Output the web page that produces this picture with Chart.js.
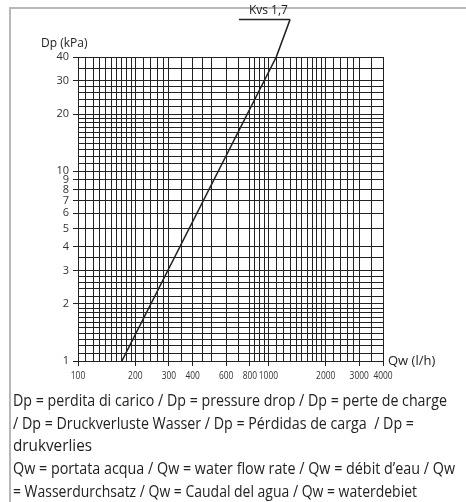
<!DOCTYPE html>
<html>
<head>
<meta charset="utf-8">
<script src="https://cdn.jsdelivr.net/npm/chart.js@4"></script>
<style>
  body { margin: 0; width: 466px; height: 502px; overflow: hidden; background: #fff; position: relative; }
  #frame { position: absolute; left: 9px; top: 7px; width: 470px; height: 510px; border-left: 2px solid #b8b8b8; border-top: 2px solid #b8b8b8; }
  #wrap { position: absolute; left: 0; top: 0; width: 466px; height: 390px; }
  #notes { position: absolute; left: 13px; top: 389px; font-family: 'Open Sans', sans-serif; font-size: 15.5px; line-height: 22.7px; color: #222; }
  #notes div { white-space: nowrap; width: max-content; transform-origin: left center; }
</style>
</head>
<body>
<div id="frame"></div>
<div id="wrap"><canvas id="chart"></canvas></div>
<div id="notes">
  <div data-w="434">Dp = perdita di carico / Dp = pressure drop / Dp = perte de charge</div>
  <div data-w="401">/ Dp = Druckverluste Wasser / Dp = Pérdidas de carga&nbsp; / Dp =</div>
  <div data-w="79">drukverlies</div>
  <div data-w="442">Qw = portata acqua / Qw = water flow rate / Qw = débit d’eau / Qw</div>
  <div data-w="404">= Wasserdurchsatz / Qw = Caudal del agua / Qw = waterdebiet</div>
</div>
<script>
// grid lines of the log-log paper
const xGrid = [100, 110, 120, 130, 140, 150, 160, 170, 180, 190, 200, 220, 240, 260, 280, 300, 350, 400, 450, 500,
  600, 700, 800, 850, 900, 950, 1000, 1100, 1200, 1300, 1400, 1500, 1600, 1700, 1800, 1900, 2000, 2200, 2400, 2600,
  2800, 3000, 3500, 4000];
const yGrid = [1, 1.1, 1.2, 1.3, 1.4, 1.5, 1.6, 1.7, 1.8, 1.9, 2, 2.2, 2.4, 2.6, 2.8, 3, 3.5, 4, 5, 6, 7, 8, 9,
  10, 11, 12, 13, 14, 15, 16, 17, 18, 19, 20, 22, 24, 26, 28, 30, 35, 40];
const xLabels = [100, 200, 300, 400, 600, 800, 1000, 2000, 3000, 4000];
const yLabels = [1, 2, 3, 4, 5, 6, 7, 8, 9, 10, 20, 30, 40];

// Kvs 1,7 curve (l/h, kPa) and its label leader
const kvsFlow = [170, 1100, 1300];
const kvsDrop = [1, 40, 63];
const leaderFlow = [700, 1300];
const leaderDrop = [63, 63];
const kvsName = 'Kvs 1,7';

const ctx = document.getElementById('chart');
const ink = '#222';

const textPlugin = {
  id: 'texts',
  afterDraw(chart) {
    const c = chart.ctx;
    const a = chart.chartArea;
    const xs = chart.scales.x, ys = chart.scales.y;
    c.save();
    c.fillStyle = ink;
    c.font = "12px 'Open Sans'";
    c.textAlign = 'left';
    c.textBaseline = 'middle';
    c.fillText('Dp (kPa)', a.left - 37, a.top - 13);
    c.font = "13px 'Open Sans'";
    c.fillText('Qw (l/h)', a.right + 5, a.bottom);
    c.font = "12px 'Open Sans'";
    c.textAlign = 'center';
    c.fillText(kvsName, xs.getPixelForValue(1000), ys.getPixelForValue(leaderDrop[0]) - 9);
    c.restore();

    // flow labels, a bit condensed like the printed ones
    c.save();
    c.fillStyle = '#333';
    c.font = "10.5px 'Open Sans'";
    c.textAlign = 'center';
    c.textBaseline = 'middle';
    const squeeze = 0.8;
    xLabels.forEach(v => {
      const px = xs.getPixelForValue(v);
      c.save();
      c.translate(px, a.bottom + 15);
      c.scale(squeeze, 1);
      c.fillText(String(v), 0, 0);
      c.restore();
    });
    c.restore();
  }
};

new Chart(ctx, {
  type: 'scatter',
  data: {
    datasets: [{
      data: kvsFlow.map((x, i) => ({ x: x, y: kvsDrop[i] })),
      showLine: true,
      borderColor: ink,
      borderWidth: 1.6,
      pointRadius: 0,
      clip: false
    }, {
      data: leaderFlow.map((x, i) => ({ x: x, y: leaderDrop[i] })),
      showLine: true,
      borderColor: ink,
      borderWidth: 1.6,
      pointRadius: 0,
      clip: false
    }]
  },
  options: {
    responsive: true,
    maintainAspectRatio: false,
    animation: false,
    devicePixelRatio: 1,
    layout: { padding: { left: 0, right: 83, top: 57, bottom: 0 } },
    plugins: { legend: { display: false }, tooltip: { enabled: false } },
    scales: {
      x: {
        type: 'logarithmic',
        min: 100,
        max: 4000,
        afterBuildTicks: s => { s.ticks = xGrid.map(v => ({ value: v })); },
        afterFit: s => { s.height = 29; },
        ticks: {
          autoSkip: false,
          maxRotation: 0,
          minRotation: 0,
          callback: () => ''   // drawn by the texts plugin
        },
        grid: {
          color: ink,
          lineWidth: 1,
          tickLength: 5,
          tickColor: c => (c.tick && xLabels.includes(c.tick.value)) ? ink : 'rgba(0,0,0,0)'
        },
        border: { color: ink }
      },
      y: {
        type: 'logarithmic',
        min: 1,
        max: 40,
        afterBuildTicks: s => { s.ticks = yGrid.map(v => ({ value: v })); },
        afterFit: s => { s.width = 78; },
        ticks: {
          autoSkip: false,
          padding: 4,
          color: '#333',
          font: { family: 'Open Sans', size: 11 },
          callback: v => yLabels.includes(v) ? String(v) : ''
        },
        grid: {
          color: ink,
          lineWidth: 1,
          tickLength: 5,
          tickColor: c => (c.tick && yLabels.includes(c.tick.value)) ? ink : 'rgba(0,0,0,0)'
        },
        border: { color: ink }
      }
    }
  },
  plugins: [textPlugin]
});

// squeeze each note line to the width it has in the picture
document.querySelectorAll('#notes div').forEach(d => {
  const w = d.getBoundingClientRect().width;
  d.style.transform = 'scaleX(' + (Number(d.dataset.w) / w) + ')';
});
</script>
</body>
</html>
